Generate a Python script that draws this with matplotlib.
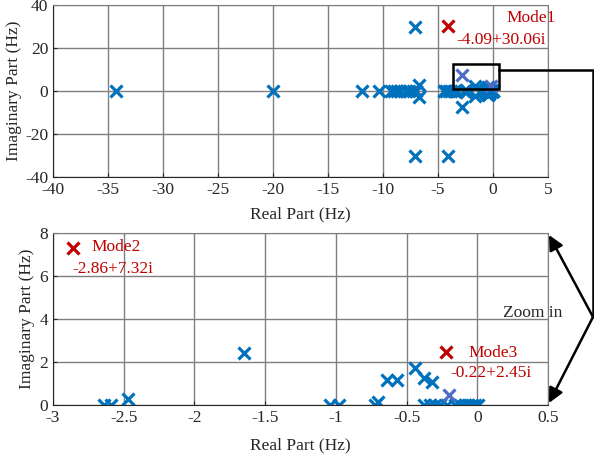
import numpy as np
import matplotlib
matplotlib.use('Agg')
import matplotlib.pyplot as plt
from matplotlib.patches import Rectangle, FancyArrowPatch
from matplotlib.lines import Line2D

plt.rcParams['font.family'] = ['Liberation Serif', 'DejaVu Serif']
plt.rcParams['font.size'] = 12.5
plt.rcParams['axes.unicode_minus'] = False

# eigenvalues far from origin (top plot only)
far_re = [-34.3, -20.0, -11.9, -10.4, -9.3, -9.0, -8.7, -8.5, -7.9, -7.6, -7.3, -7.0,
          -6.7, -6.7, -7.1, -7.1, -4.5, -4.25, -4.0, -3.8, -3.5, -3.3, -4.09, -2.86]
far_im = [0, 0, 0, 0, 0, 0, 0, 0, 0, 0, 0, 0,
          3.0, -3.0, 30.0, -30.0, 0, 0, 0, 0, 0, 0, -30.06, -7.32]

# eigenvalues near origin (upper half plane, shown in zoom plot)
near_re = [-2.64, -2.59, -2.47, -1.65, -1.04, -0.98, -0.72, -0.70, -0.64, -0.57,
           -0.44, -0.38, -0.32, -0.376, -0.333, -0.298, -0.262, -0.213, -0.156,
           -0.121, -0.085, -0.064, -0.035, -0.014, 0.007]
near_im = [0, 0, 0.27, 2.42, 0, 0, 0, 0.15, 1.16, 1.16,
           1.7, 1.27, 1.08, 0, 0, 0, 0, 0, 0,
           0, 0, 0, 0, 0, 0]

# highlighted modes
mode_re = [-4.09, -2.86, -0.22]
mode_im = [30.06, 7.32, 2.45]
purple_top_re = [-2.86, -0.22]
purple_top_im = [7.32, 2.45]
purple_bot_re = [-0.2]
purple_bot_im = [0.46]

blue = '#0072BD'
purple = '#4F6CC4'
red = '#C00000'
dark = '#262626'
gridc = '#7f7f7f'

fig = plt.figure(figsize=(5.94, 4.58), dpi=100)
W, H = 594.0, 458.0
ax1 = fig.add_axes([53 / W, 1 - 177 / H, 495 / W, 172 / H])
ax2 = fig.add_axes([53 / W, 1 - 405 / H, 495 / W, 172 / H])

mk = dict(linestyle='none', marker='x', ms=8.5, mew=2.3)

# top plot
top_re = far_re + near_re + [r for r, i in zip(near_re, near_im) if i != 0]
top_im = far_im + near_im + [-i for i in near_im if i != 0]
ax1.plot(top_re, top_im, color=blue, **mk)
ax1.plot(purple_top_re, purple_top_im, color=purple, **mk)
ax1.plot(mode_re[0], mode_im[0], color=red, **mk)
ax1.text(1.2, 34, 'Mode1', color=red, va='center', ha='left')
ax1.text(-3.3, 23.7, '-4.09+30.06i', color=red, va='center', ha='left')
ax1.add_patch(Rectangle((-3.66, 0.9), 4.2, 11.6, fill=False, ec='black', lw=1.8, zorder=5))
ax1.set_xlim(-40, 5)
ax1.set_ylim(-40, 40)
ax1.set_xticks(np.arange(-40, 6, 5))
ax1.set_yticks(np.arange(-40, 41, 20))
ax1.set_xlabel('Real Part (Hz)')
ax1.set_ylabel('Imaginary Part (Hz)')
ax1.xaxis.set_label_coords(0.5, -0.17)
ax1.yaxis.set_label_coords(-0.062, 0.5)

# zoomed plot
ax2.plot(near_re, near_im, color=blue, **mk)
ax2.plot(purple_bot_re, purple_bot_im, color=purple, **mk)
ax2.plot(mode_re[1:], mode_im[1:], color=red, **mk)
ax2.text(-2.73, 7.33, 'Mode2', color=red, va='center', ha='left')
ax2.text(-2.86, 6.34, '-2.86+7.32i', color=red, va='center', ha='left')
ax2.text(-0.06, 2.44, 'Mode3', color=red, va='center', ha='left')
ax2.text(-0.19, 1.47, '-0.22+2.45i', color=red, va='center', ha='left')
ax2.set_xlim(-3, 0.5)
ax2.set_ylim(0, 8)
ax2.set_xticks(np.arange(-3, 0.51, 0.5))
ax2.set_xticklabels(['-3', '-2.5', '-2', '-1.5', '-1', '-0.5', '0', '0.5'])
ax2.set_yticks(np.arange(0, 9, 2))
ax2.set_xlabel('Real Part (Hz)')
ax2.set_ylabel('Imaginary Part (Hz)')
ax2.xaxis.set_label_coords(0.5, -0.19)
ax2.yaxis.set_label_coords(-0.036, 0.5)

for ax in (ax1, ax2):
    ax.grid(True, color=gridc, lw=1.0)
    ax.set_axisbelow(True)
    ax.tick_params(direction='in', length=3, colors=dark, labelsize=12.5)
    ax.spines['left'].set_color(dark)
    ax.spines['bottom'].set_color(dark)
    ax.spines['top'].set_color(gridc)
    ax.spines['right'].set_color(gridc)
    ax.xaxis.label.set_color(dark)
    ax.yaxis.label.set_color(dark)

# connector from rectangle to zoom plot
def fp(x, y):
    return (x / W, 1 - y / H)

xs, ys = zip(fp(499, 70), fp(593, 70), fp(593, 317))
fig.add_artist(Line2D(xs, ys, transform=fig.transFigure, color='black', lw=1.8))
for tgt in [(549, 235), (549, 403)]:
    fig.add_artist(FancyArrowPatch(fp(593, 317), fp(*tgt), transform=fig.transFigure,
                                   arrowstyle='-|>', mutation_scale=22, color='black',
                                   lw=1.8, shrinkA=0, shrinkB=0))
fig.text(503 / W, 1 - 313 / H, 'Zoom in', color=dark, va='center', ha='left', fontsize=12.5)

fig.savefig('out.png', dpi=100)
